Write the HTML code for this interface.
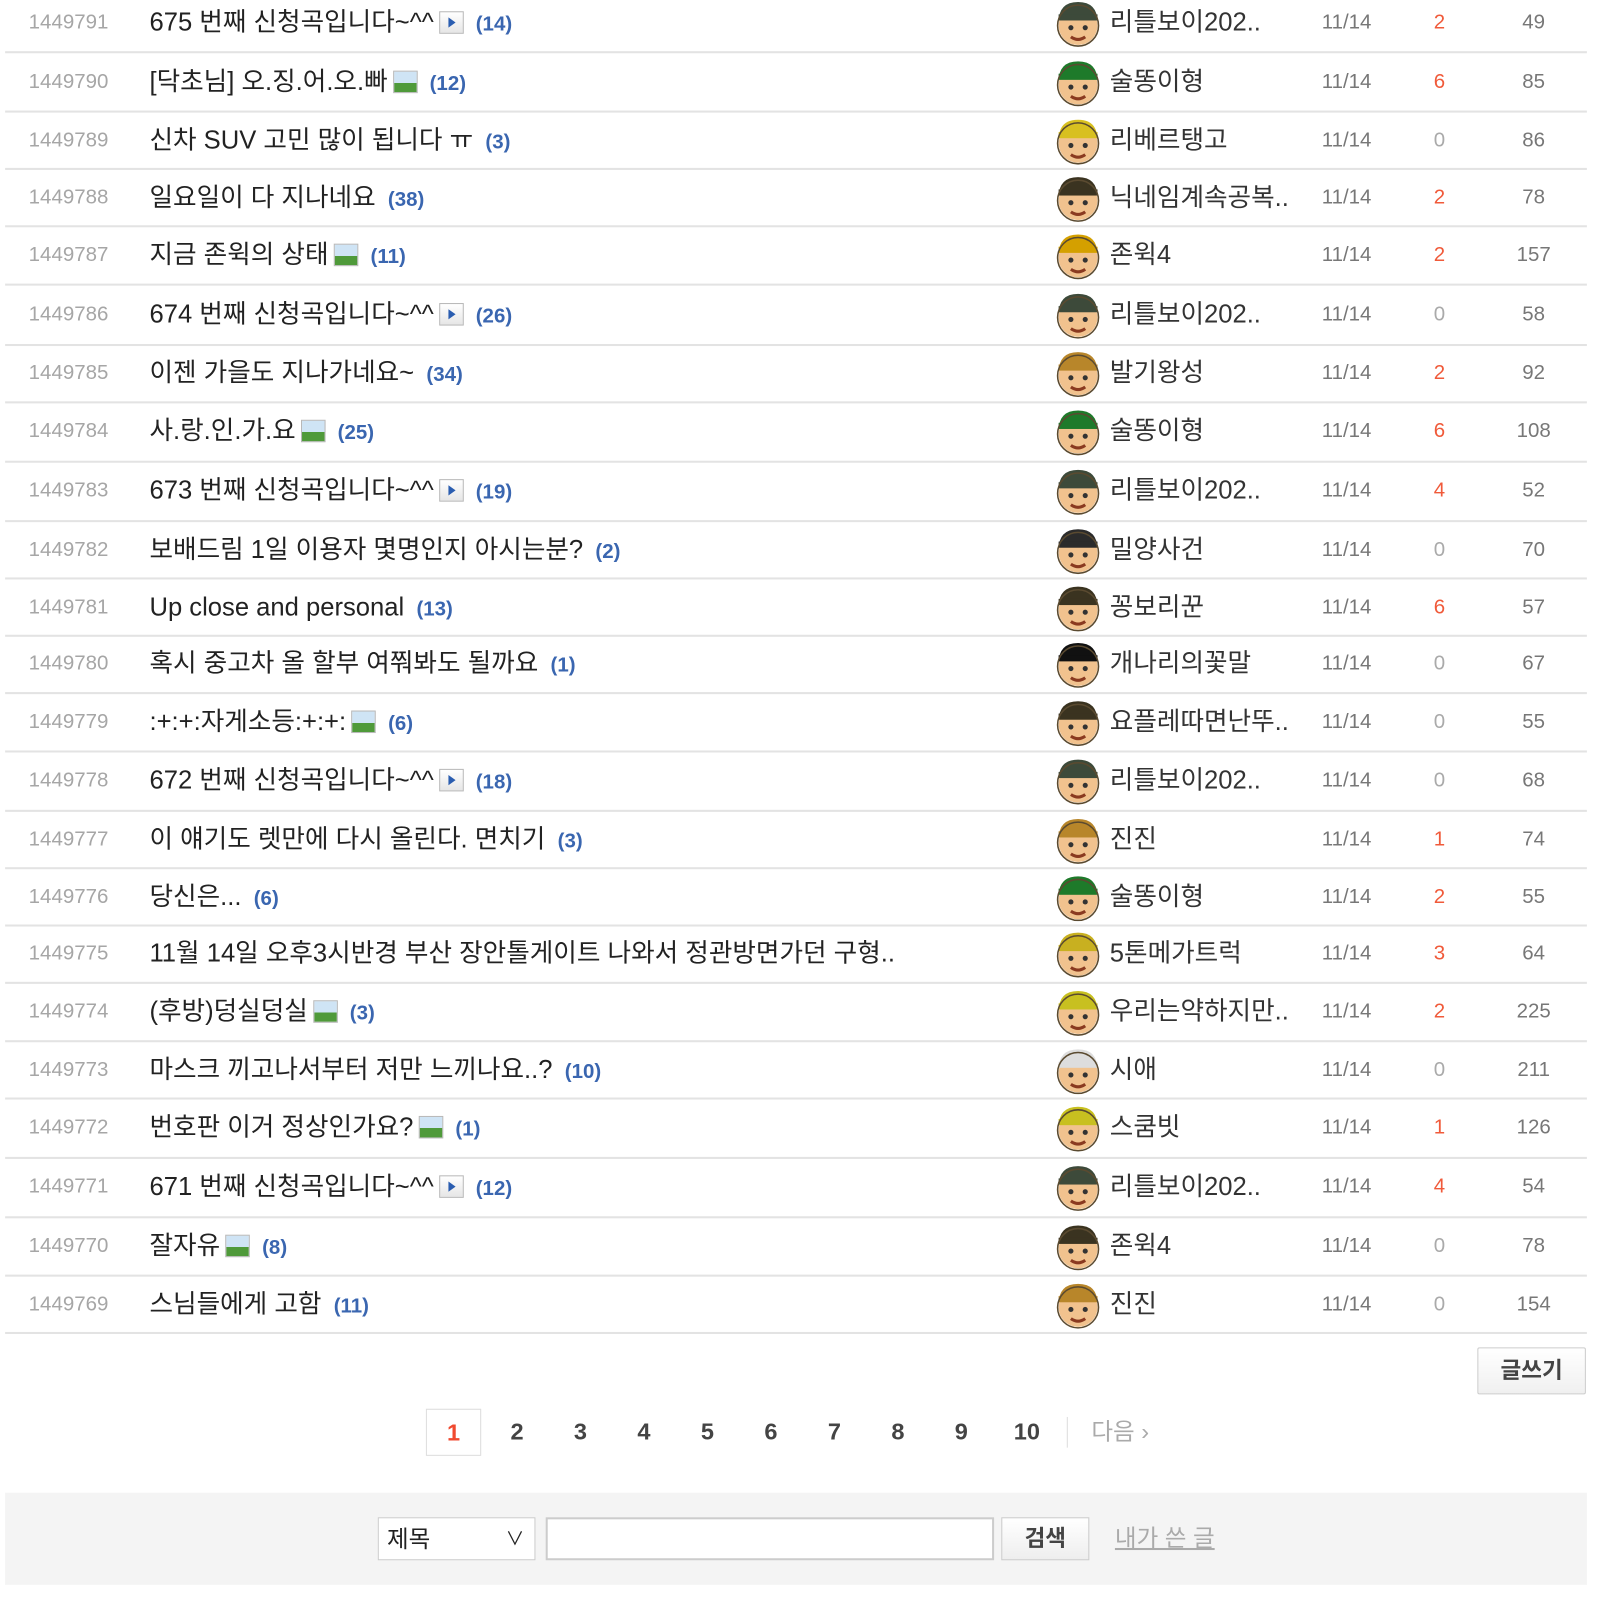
<!DOCTYPE html>
<html><head><meta charset="utf-8">
<style>
body{margin:0;width:1597px;height:1605px;background:#fff;position:relative;overflow:hidden;font-family:"Liberation Sans","Noto Sans CJK KR","NanumGothic",sans-serif;}
#wrap{position:absolute;left:0;top:0;width:1560px;height:1568px;transform:scale(1.0238);transform-origin:0 0;}
.row{position:absolute;left:5px;width:1545px;height:56px;}
.line{position:absolute;left:5px;width:1545px;height:2px;background:#e3e3e3;}
.num{position:absolute;left:23px;top:0;line-height:44px;font-size:20px;color:#a6a6a6;}
.title{position:absolute;left:141px;top:0;line-height:44px;font-size:25px;color:#222;white-space:nowrap;}
.cmt{color:#3a66b0;font-weight:bold;font-size:20px;margin-left:12px;}
.ico{display:inline-block;width:22px;height:20px;border:1px solid #b8b8b8;background:linear-gradient(#fff,#e6e6e6);vertical-align:-3px;margin-left:5px;position:relative;}
.play:after{content:"";position:absolute;left:8px;top:5px;border-left:7px solid #2a5db0;border-top:5px solid transparent;border-bottom:5px solid transparent;}
.img{background:linear-gradient(#cfe4f5 0,#cfe4f5 55%,#4f9a3a 55%);}
.av{position:absolute;left:1025px;top:0px;}
.name{position:absolute;left:1079px;top:0;line-height:44px;font-size:25px;color:#333;white-space:nowrap;}
.date{position:absolute;left:1286px;top:0;line-height:44px;font-size:20px;color:#777;}
.rec{position:absolute;left:1380px;width:42px;text-align:center;top:0;line-height:44px;font-size:20px;}
.view{position:absolute;left:1470px;width:46px;text-align:center;top:0;line-height:44px;font-size:20px;color:#777;}
</style></head><body>
<div id="wrap">
<div id="list"></div>

<div style="position:absolute;left:1443px;top:1316px;width:104px;height:44px;border:1px solid #ccc;border-radius:2px;background:linear-gradient(#fff,#f0f0f0);text-align:center;line-height:44px;font-size:22px;font-weight:bold;color:#444;">글쓰기</div>

<div style="position:absolute;left:416px;top:1376px;height:46px;">
<div style="position:absolute;left:0;top:0;width:52px;height:44px;border:1px solid #ddd;color:#f04a30;font-weight:bold;font-size:23px;text-align:center;line-height:44px;">1</div>
</div>
<div id="pages"></div>
<div style="position:absolute;left:1042px;top:1384px;width:1px;height:30px;background:#ddd;"></div>
<div style="position:absolute;left:1066px;top:1376px;line-height:44px;font-size:23px;color:#aaa;">다음 ›</div>

<div style="position:absolute;left:5px;top:1458px;width:1545px;height:90px;background:#f4f4f4;"></div>
<div style="position:absolute;left:369px;top:1482px;width:152px;height:40px;border:1px solid #ccc;background:#fff;font-size:23px;line-height:40px;color:#222;"><span style="margin-left:8px;">제목</span><span style="position:absolute;right:10px;top:0;font-size:18px;">∨</span></div>
<div style="position:absolute;left:533px;top:1482px;width:434px;height:38px;border:2px solid #ccc;background:#fff;"></div>
<div style="position:absolute;left:978px;top:1482px;width:84px;height:40px;border:1px solid #ccc;background:linear-gradient(#fff,#eee);text-align:center;line-height:40px;font-size:22px;font-weight:bold;color:#444;">검색</div>
<div style="position:absolute;left:1089px;top:1482px;line-height:40px;font-size:23px;color:#aaa;text-decoration:underline;">내가 쓴 글</div>
</div>

<script>
const nums=[1449791,1449790,1449789,1449788,1449787,1449786,1449785,1449784,1449783,1449782,1449781,1449780,1449779,1449778,1449777,1449776,1449775,1449774,1449773,1449772,1449771,1449770,1449769];
const titles=["675 번째 신청곡입니다~^^","[닥초님] 오.징.어.오.빠","신차 SUV 고민 많이 됩니다 ㅠ","일요일이 다 지나네요","지금 존윅의 상태","674 번째 신청곡입니다~^^","이젠 가을도 지나가네요~","사.랑.인.가.요","673 번째 신청곡입니다~^^","보배드림 1일 이용자 몇명인지 아시는분?","Up close and personal","혹시 중고차 올 할부 여쭤봐도 될까요",":+:+:자게소등:+:+:","672 번째 신청곡입니다~^^","이 얘기도 렛만에 다시 올린다. 면치기","당신은...","11월 14일 오후3시반경 부산 장안톨게이트 나와서 정관방면가던 구형..","(후방)덩실덩실","마스크 끼고나서부터 저만 느끼나요..?","번호판 이거 정상인가요?","671 번째 신청곡입니다~^^","잘자유","스님들에게 고함"];
const icons=["play","img","","","img","play","","img","play","","","","img","play","","","","img","","img","play","img",""];
const comments=[14,12,3,38,11,26,34,25,19,2,13,1,6,18,3,6,null,3,10,1,12,8,11];
const authors=["리틀보이202..","술똥이형","리베르탱고","닉네임계속공복..","존윅4","리틀보이202..","발기왕성","술똥이형","리틀보이202..","밀양사건","꽁보리꾼","개나리의꽃말","요플레따면난뚜..","리틀보이202..","진진","술똥이형","5톤메가트럭","우리는약하지만..","시애","스쿰빗","리틀보이202..","존윅4","진진"];
const recs=[2,6,0,2,2,0,2,6,4,0,6,0,0,0,1,2,3,2,0,1,4,0,0];
const views=[49,85,86,78,157,58,92,108,52,70,57,67,55,68,74,55,64,225,211,126,54,78,154];
const hats=["#3d4a3a","#1e7a2a","#d8c020","#3a3320","#d4a000","#3d4a3a","#b8862a","#1e7a2a","#3d4a3a","#2b2b2b","#3a3320","#111","#3a3320","#3d4a3a","#b8862a","#1e7a2a","#c8b020","#c8c020","#ddd","#c8c020","#3d4a3a","#3a3320","#b8862a"];
const rowTops=[0,58,115,171,227,285,342,399,457,515,571,626,683,740,798,854,909,966,1023,1079,1137,1195,1252];
const lineYs=[50,108,164,220,277,336,392,450,508,564,620,676,733,791,847,903,959,1016,1072,1130,1188,1245,1301];
const list=document.getElementById('list');
for(let i=0;i<nums.length;i++){
  const r=document.createElement('div');r.className='row';r.style.top=rowTops[i]+'px';
  
  
  let ic=icons[i]?`<span class="ico ${icons[i]}"></span>`:'';
  let cm=comments[i]!=null?`<span class="cmt">(${comments[i]})</span>`:'';
  r.innerHTML=`<div class="num">${nums[i]}</div>
<div class="title">${titles[i]}${ic}${cm}</div>
<svg class="av" width="46" height="46"><circle cx="23" cy="25" r="19" fill="#f1c28e"/><path d="M4 22 Q4 2 23 2 Q42 2 42 22 L42 18 L4 18Z" fill="${hats[i]}"/><rect x="4" y="14" width="38" height="6" fill="${hats[i]}"/><circle cx="16" cy="27" r="2.5" fill="#333"/><circle cx="30" cy="27" r="2.5" fill="#333"/><path d="M16 36 Q23 41 30 36" stroke="#8a3a20" stroke-width="3" fill="none"/><circle cx="23" cy="25" r="20" fill="none" stroke="#5a4a30" stroke-width="1.5"/></svg>
<div class="name">${authors[i]}</div>
<div class="date">11/14</div>
<div class="rec">${recs[i]}</div>
<div class="view">${views[i]}</div>`;
  r.querySelector('.rec').style.color=recs[i]>0?'#f05a3a':'#aaa';
  list.appendChild(r);
  const l=document.createElement('div');l.className='line';l.style.top=lineYs[i]+'px';
  
  
  list.appendChild(l);
}
const pageNums=[2,3,4,5,6,7,8,9,10];
const pageX0=505, pageStep=62;
const pg=document.getElementById('pages');
pageNums.forEach((p,k)=>{
  const d=document.createElement('div');
  
  
  d.textContent=p;
  d.style.cssText=`position:absolute;left:${pageX0+k*pageStep-20+(p===10?2:0)}px;width:40px;text-align:center;top:1376px;line-height:44px;font-size:23px;font-weight:bold;color:#444;`;
  pg.appendChild(d);
});
</script>
</body></html>
